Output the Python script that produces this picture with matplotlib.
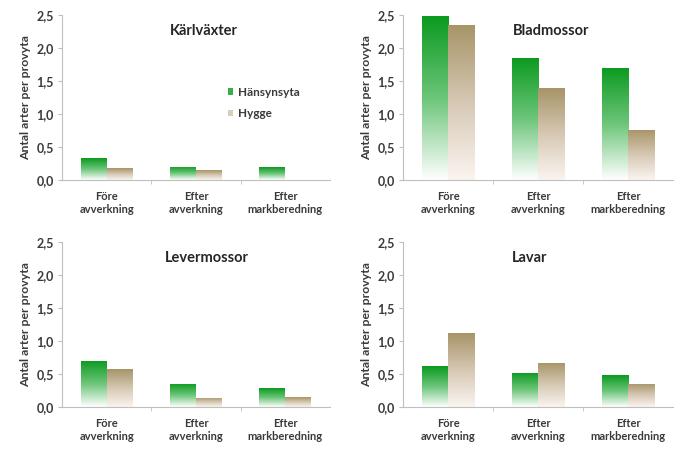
import numpy as np
import matplotlib
matplotlib.use("Agg")
import matplotlib.pyplot as plt
from matplotlib.colors import LinearSegmentedColormap
from matplotlib.patches import Patch

plt.rcParams['font.family'] = ['Lato', 'DejaVu Sans']

categories = ['Före\navverkning', 'Efter\navverkning', 'Efter\nmarkberedning']
titles = ['Kärlväxter', 'Bladmossor', 'Levermossor', 'Lavar']
hansynsyta = [
    [0.33, 0.20, 0.19],
    [2.48, 1.85, 1.70],
    [0.70, 0.35, 0.28],
    [0.62, 0.52, 0.48],
]
hygge = [
    [0.18, 0.15, 0.0],
    [2.35, 1.39, 0.76],
    [0.57, 0.14, 0.15],
    [1.12, 0.67, 0.35],
]
yticks = [0.0, 0.5, 1.0, 1.5, 2.0, 2.5]
ytick_labels = ['0,0', '0,5', '1,0', '1,5', '2,0', '2,5']

green_cmap = LinearSegmentedColormap.from_list('g', ['#ffffff', '#6cc57a', '#0b9a1f'])
tan_cmap = LinearSegmentedColormap.from_list('t', ['#fbf5f0', '#d6c8b4', '#a79467'])

fig = plt.figure(figsize=(6.8, 4.5), dpi=100)
positions = [
    [62/680, 0.600, 268/680, 0.367],
    [403/680, 0.600, 270/680, 0.367],
    [62/680, 0.0956, 268/680, 0.367],
    [403/680, 0.0956, 270/680, 0.367],
]
title_x = [0.53, 0.55, 0.54, 0.47]

bw = 0.29
grad = np.linspace(0, 1, 256).reshape(-1, 1)
txt = '#3a3a3a'


def gradient_bar(ax, x, h, cmap):
    if h <= 0:
        return
    bar = ax.bar(x, h, width=bw, facecolor='none', edgecolor='none')[0]
    im = ax.imshow(grad, cmap=cmap, origin='lower', aspect='auto',
                   extent=(x - bw/2, x + bw/2, 0, h), zorder=2)
    im.set_clip_path(bar)


for i, ax in enumerate([fig.add_axes(p) for p in positions]):
    x = np.arange(len(categories))
    for j in range(len(categories)):
        gradient_bar(ax, x[j] - bw/2, hansynsyta[i][j], green_cmap)
        gradient_bar(ax, x[j] + bw/2, hygge[i][j], tan_cmap)
    ax.set_xlim(-0.5, 2.5)
    ax.set_ylim(0, 2.5)
    ax.set_yticks(yticks)
    ax.set_yticklabels(ytick_labels, fontsize=9, fontweight='bold', color=txt)
    ax.set_xticks(x)
    ax.set_xticklabels(categories, fontsize=8, fontweight='bold', color=txt,
                       linespacing=1.25)
    ax.set_xticks([0.5, 1.5], minor=True)
    ax.tick_params(axis='x', which='major', length=0, pad=8)
    ax.tick_params(axis='x', which='minor', length=3, color='#bfbfbf')
    ax.tick_params(axis='y', length=3, color='#bfbfbf', pad=3)
    for s in ['top', 'right']:
        ax.spines[s].set_visible(False)
    for s in ['left', 'bottom']:
        ax.spines[s].set_color('#bfbfbf')
        ax.spines[s].set_linewidth(0.8)
    ax.set_ylabel('Antal arter per provyta', fontsize=8.8, fontweight='bold',
                  color=txt, labelpad=4)
    ax.text(title_x[i], 0.9, titles[i], transform=ax.transAxes, ha='center',
            va='center', fontsize=10.5, fontweight='bold', color='#262626')
    if i == 0:
        handles = [Patch(facecolor='#3aae4c', edgecolor='none'),
                   Patch(facecolor='#d9cdb8', edgecolor='none')]
        ax.legend(handles, ['Hänsynsyta', 'Hygge'], loc='upper left',
                  bbox_to_anchor=(0.58, 0.63), frameon=False, handlelength=0.45,
                  handleheight=0.45, handletextpad=0.4, labelspacing=0.9,
                  prop={'size': 8.5, 'weight': 'bold'}, labelcolor=txt)

fig.savefig('out.png', dpi=100)
